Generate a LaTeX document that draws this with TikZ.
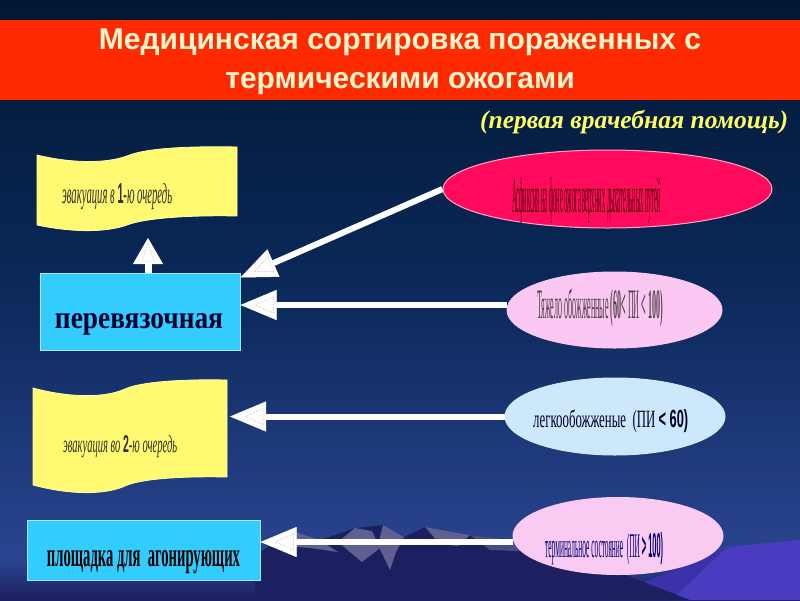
\documentclass[tikz,border=0pt]{standalone}
\usepackage{fontspec}
\usepackage{graphicx}
\setmainfont{Liberation Serif}
\newfontfamily\hsans{Liberation Sans}
\usetikzlibrary{shapes.geometric,arrows.meta,decorations.markings}
\definecolor{bgtop}{HTML}{021733}
\definecolor{bgmid}{HTML}{0A2858}
\definecolor{bgbot}{HTML}{2A4590}
\definecolor{titlered}{HTML}{FF2A00}
\definecolor{titletxt}{HTML}{FFF5CC}
\definecolor{subyellow}{HTML}{FFFF66}
\definecolor{bannerY}{HTML}{FFFA72}
\definecolor{boxblue}{HTML}{33CCFF}
\definecolor{boxedge}{HTML}{A8E6FF}
\definecolor{ellred}{HTML}{FF0A5C}
\definecolor{ellpink}{HTML}{FAC8F2}
\definecolor{ellblue}{HTML}{CDE8FA}
\definecolor{ellpink2}{HTML}{F9CAF2}
\definecolor{mtlight}{HTML}{5D6090}
\definecolor{mtdark}{HTML}{1C2060}
\definecolor{mtpurple}{HTML}{3B32A8}
\definecolor{mtpurple2}{HTML}{4A3CC0}
\begin{document}
\begin{tikzpicture}[x=1pt,y=-1pt,
  banner/.style={fill=bannerY, draw=bannerY!60!white, line width=0.8pt},
  box/.style={rectangle, fill=boxblue, draw=boxedge, line width=1pt, inner sep=0},
  ell/.style={ellipse, inner sep=0, line width=1pt},
  lbl/.style={inner sep=0, anchor=base west},
  titletext/.style={inner sep=0, anchor=base, text=titletxt, font=\hsans\bfseries\fontsize{30}{36}\selectfont},
  base/.style={draw=white, line width=6pt},
  innertri/.style n args={3}{postaction={decorate, decoration={markings,
     mark=at position 0.9999 with {\draw[-, solid, line width=0.5pt, draw=gray!70, densely dotted] (-#1,0) -- (-#2,#3) -- (-#2,-#3) -- cycle;}}}},
  conn/.style={base, -{Triangle[length=36pt,width=30pt,line width=0.5pt]}, innertri={15}{33}{8}},
  connup/.style={base, line width=7pt, -{Triangle[length=26pt,width=30pt,line width=0.5pt]}, innertri={5}{23}{6}}
]
\useasboundingbox (0,0) rectangle (800,600);
% background
\shade[top color=bgtop, bottom color=bgbot, middle color=bgmid] (0,0) rectangle (800,560);
\shade[top color=bgbot, bottom color=mtdark] (0,559) rectangle (800,600);
% mountains
\fill[mtpurple2] (671,600) -- (727,547) -- (800,540) -- (800,600) -- cycle;
\fill[mtpurple] (600,600) -- (671,600) -- (727,547) -- (700,560) -- cycle;
\fill[mtdark] (255,556) -- (280,538) -- (296,532) -- (320,540) -- (355,528) -- (383,525) -- (404,537) -- (425,527) -- (470,535) -- (515,540) -- (600,565) -- (690,600) -- (255,600) -- cycle;
\fill[mtlight] (282,546) -- (296,532) -- (320,540) -- (338,552) -- (310,548) -- cycle;
\fill[mtlight] (338,542) -- (355,528) -- (372,531) -- (380,548) -- (362,562) -- cycle;
\fill[mtlight] (383,525) -- (404,537) -- (396,552) -- (390,570) -- (378,545) -- cycle;
\fill[mtlight] (425,527) -- (470,535) -- (458,546) -- (440,544) -- cycle;
\fill[mtlight!70!mtdark] (470,535) -- (515,540) -- (540,552) -- (490,550) -- cycle;
% title
\fill[titlered] (0,20) rectangle (800,100);
\node[titletext] (title1) at (400,49) {Медицинская сортировка пораженных с};
\node[titletext] (title2) at (400,88) {термическими ожогами};
\node[lbl, text=subyellow] (sub) at (480,128) {\resizebox{308pt}{!}{\bfseries\itshape (первая врачебная помощь)}};
% banners
\path[banner] (37,155) .. controls (70,163) and (105,164) .. (127,156) .. controls (145,148) and (190,146) .. (237,147)
  -- (237,216) .. controls (190,215) and (145,218) .. (127,225) .. controls (105,233) and (70,232) .. (37,225) -- cycle;
\node[lbl, text=black!85!olive] (t1) at (62,203) {\resizebox{110pt}{20pt}{\itshape эвакуация в {\hsans\bfseries\upshape 1}-ю очередь}};
\path[banner] (33,388) .. controls (70,398) and (105,398) .. (125,389) .. controls (140,382) and (180,379) .. (227,380)
  -- (227,477) .. controls (180,476) and (140,479) .. (125,486) .. controls (105,495) and (70,495) .. (33,485) -- cycle;
\node[lbl, text=black!85!olive] (t2) at (63,452) {\resizebox{114pt}{17pt}{\itshape эвакуация во {\hsans\bfseries\upshape 2}-ю очередь}};
\coordinate (b2tip) at (230,420);
% boxes
\node[box, minimum width=200pt, minimum height=77pt] (box1) at (140,311.5) {};
\node[inner sep=0, anchor=base, text=black!80!blue] (box1t) at (139,328) {\resizebox{168pt}{15pt}{\bfseries перевязочная}};
\node[box, minimum width=233pt, minimum height=60pt] (box2) at (143.5,550) {};
\node[inner sep=0, anchor=base, text=black] (box2t) at (143.5,566) {\resizebox{193pt}{16pt}{\bfseries площадка для\ \ агонирующих}};
% connectors
\coordinate (uptip) at (148,238);
\draw[connup] (uptip |- box1.north) -- (uptip);
\node[ell, fill=ellred, draw=ellred!35!white, minimum width=329pt, minimum height=78pt] (e1) at (607.5,189) {};
\node[ell, fill=ellpink, draw=ellpink, minimum width=215pt, minimum height=76pt] (e2) at (614.5,310) {};
\node[ell, fill=ellblue, draw=ellblue, minimum width=220pt, minimum height=77pt] (e3) at (615,416.5) {};
\node[ell, fill=ellpink2, draw=ellpink2, minimum width=210pt, minimum height=77pt] (e4) at (618,536) {};
\draw[conn] (e1.west) -- ([yshift=-5pt]box1.north east);
\draw[conn] ([yshift=5pt]e2.west) -- ([yshift=5pt]e2.west -| box1.east);
\draw[conn] (e3.west) -- (e3.west -| b2tip);
\draw[conn] ([yshift=-6pt]e4.west) -- ([yshift=-6pt]e4.west -| box2.east);
% ellipse texts
\node[lbl, text=black!70!red] (e1t) at (512,212) {\resizebox{149pt}{35pt}{Асфиксия на фоне ожога верхних дыхательных путей}};
\node[lbl, text=black!80!magenta] (e2t) at (537,318) {\resizebox{126pt}{30pt}{Тяжело обожженные {\bfseries(60<} ПИ {\bfseries< 100)}}};
\node[lbl, text=black!85!blue] (e3t) at (533,427) {\resizebox{155pt}{18pt}{легкообожженые\ \ (ПИ {\hsans\bfseries < 60)}}};
\node[lbl, text=blue!45!black] (e4t) at (545,557) {\resizebox{118pt}{25pt}{терминальное состояние\ \ (ПИ {\hsans\bfseries > 100)}}};
\end{tikzpicture}
\end{document}
